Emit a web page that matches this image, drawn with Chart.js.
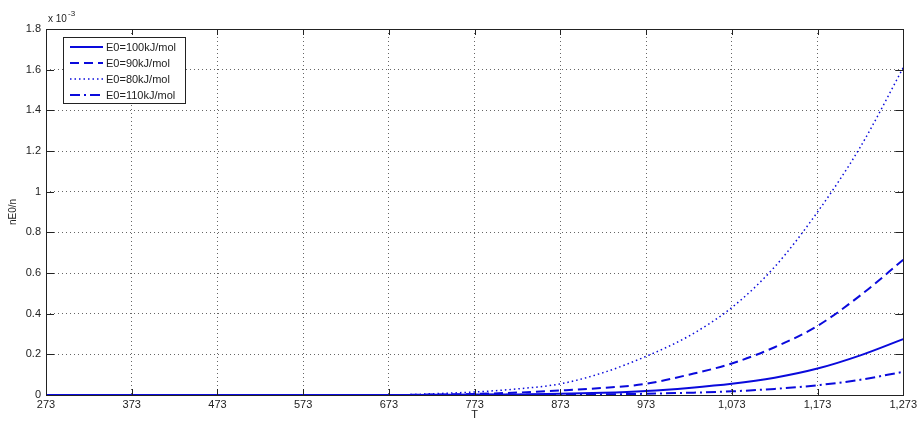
<!DOCTYPE html>
<html>
<head>
<meta charset="utf-8">
<script src="https://cdn.jsdelivr.net/npm/chart.js@4/dist/chart.umd.min.js"></script>
<style>
    html, body { margin: 0; padding: 0; background: #fff; }
    #wrap { width: 920px; height: 422px; position: relative; }
</style>
</head>
<body>
<div id="wrap"><canvas id="Chart1"></canvas></div>
<script>
// temperatures (T) and nE0/n values, in units of 1e-3
const temps = [273, 323, 373, 423, 473, 523, 573, 623, 673, 723, 773, 823, 873, 923, 973, 1023, 1073, 1123, 1173, 1223, 1273];
const e100 = [0, 0, 0, 0, 0, 0, 0, 0, 0, 0.001, 0.002, 0.003, 0.006, 0.011, 0.02, 0.035, 0.055, 0.085, 0.13, 0.195, 0.275];
const e90 = [0, 0, 0, 0, 0, 0, 0, 0, 0, 0.002, 0.005, 0.012, 0.022, 0.035, 0.055, 0.1, 0.155, 0.235, 0.34, 0.49, 0.665];
const e80 = [0, 0, 0, 0, 0, 0, 0, 0, 0, 0.006, 0.015, 0.03, 0.055, 0.11, 0.19, 0.29, 0.43, 0.63, 0.9, 1.22, 1.61];
const e110 = [0, 0, 0, 0, 0, 0, 0, 0, 0, 0, 0.001, 0.001, 0.002, 0.003, 0.006, 0.011, 0.018, 0.03, 0.048, 0.075, 0.114];
const seriesLabels = ["E0=100kJ/mol", "E0=90kJ/mol", "E0=80kJ/mol", "E0=110kJ/mol"];
const xTicks = [273, 373, 473, 573, 673, 773, 873, 973, 1073, 1173, 1273];
const yTicks = [0, 0.2, 0.4, 0.6, 0.8, 1, 1.2, 1.4, 1.6, 1.8];

const blue = "#0a0adc";
const font = "'Liberation Sans', Arial, sans-serif";
const toPoints = (arr) => arr.map((v, i) => ({ x: temps[i], y: v }));

function makeSet(label, arr, dash, width) {
    return {
        label: label,
        data: toPoints(arr),
        borderColor: blue,
        backgroundColor: blue,
        borderWidth: width,
        borderDash: dash,
        pointRadius: 0,
        cubicInterpolationMode: "monotone",
        fill: false,
    };
}

// frame, inward ticks, exponent note and legend (matlab look)
const matlabLook = {
    id: "matlabLook",
    afterDraw(chart) {
        const c = chart.ctx;
        const a = chart.chartArea;
        const xs = chart.scales.x;
        const ys = chart.scales.y;
        c.save();
        c.strokeStyle = "#222";
        c.lineWidth = 1;
        c.setLineDash([]);
        c.strokeRect(Math.round(a.left) + 0.5, Math.round(a.top) + 0.5, Math.round(a.right - a.left), Math.round(a.bottom - a.top));
        c.beginPath();
        xTicks.forEach((v) => {
            const px = Math.round(xs.getPixelForValue(v)) + 0.5;
            c.moveTo(px, a.bottom); c.lineTo(px, a.bottom - 6);
            c.moveTo(px, a.top); c.lineTo(px, a.top + 6);
        });
        yTicks.forEach((v) => {
            const py = Math.round(ys.getPixelForValue(v)) + 0.5;
            c.moveTo(a.left, py); c.lineTo(a.left + 8, py);
            c.moveTo(a.right, py); c.lineTo(a.right - 8, py);
        });
        c.stroke();

        // x 10^-3
        c.fillStyle = "#222";
        c.font = "10px " + font;
        c.textBaseline = "alphabetic";
        c.fillText("x 10", a.left + 2, a.top - 7);
        c.font = "8px " + font;
        c.fillText("-3", a.left + 22, a.top - 13);

        // legend box
        const lx = a.left + 17, ly = a.top + 8, lw = 122, lh = 66;
        c.fillStyle = "#fff";
        c.fillRect(lx, ly, lw, lh);
        c.strokeStyle = "#222";
        c.strokeRect(lx + 0.5, ly + 0.5, lw, lh);
        c.font = "11px " + font;
        c.textBaseline = "middle";
        chart.data.datasets.forEach((ds, i) => {
            const yy = ly + 10 + i * 16;
            c.strokeStyle = ds.borderColor;
            c.lineWidth = ds.borderWidth;
            c.setLineDash(ds.borderDash);
            c.beginPath();
            c.moveTo(lx + 7, yy);
            c.lineTo(lx + 40, yy);
            c.stroke();
            c.setLineDash([]);
            c.fillStyle = "#222";
            c.fillText(ds.label, lx + 43, yy + 1);
        });
        c.restore();
    },
};

const ctx1 = document.getElementById("Chart1").getContext("2d");
const chart1 = new Chart(ctx1, {
    type: "line",
    data: {
        datasets: [
            makeSet(seriesLabels[0], e100, [], 2),
            makeSet(seriesLabels[1], e90, [9, 5], 2),
            makeSet(seriesLabels[2], e80, [1.5, 3], 1.5),
            makeSet(seriesLabels[3], e110, [10, 4, 2, 4], 2),
        ],
    },
    plugins: [matlabLook],
    options: {
        responsive: true,
        maintainAspectRatio: false,
        animation: false,
        layout: {
            padding: { top: 29, right: 16, bottom: 0, left: 0 },
        },
        plugins: {
            legend: { display: false },
            tooltip: { enabled: false },
            title: { display: false },
        },
        scales: {
            x: {
                type: "linear",
                min: 273,
                max: 1273,
                afterBuildTicks: (scale) => {
                    scale.ticks = xTicks.map((v) => ({ value: v }));
                },
                afterFit: (scale) => {
                    scale.height = 27;
                },
                grid: {
                    color: "#666",
                    lineWidth: 1,
                    drawTicks: false,
                },
                border: { display: false, dash: [1, 3] },
                ticks: {
                    padding: 3,
                    color: "#222",
                    maxRotation: 0,
                    font: { family: font, size: 11 },
                },
                title: {
                    display: true,
                    text: "T",
                    color: "#222",
                    padding: { top: -3, bottom: 0 },
                    font: { family: font, size: 11 },
                },
            },
            y: {
                min: 0,
                max: 1.8,
                afterBuildTicks: (scale) => {
                    scale.ticks = yTicks.map((v) => ({ value: v }));
                },
                afterFit: (scale) => {
                    scale.width = 46;
                },
                grid: {
                    color: "#666",
                    lineWidth: 1,
                    drawTicks: false,
                },
                border: { display: false, dash: [1, 3] },
                ticks: {
                    padding: 5,
                    color: "#222",
                    font: { family: font, size: 11 },
                    callback: (v) => String(Math.round(v * 10) / 10),
                },
                title: {
                    display: true,
                    text: "nE0/n",
                    color: "#222",
                    padding: { top: 7, bottom: 0 },
                    font: { family: font, size: 10 },
                },
            },
        },
    },
});
</script>
</body>
</html>
